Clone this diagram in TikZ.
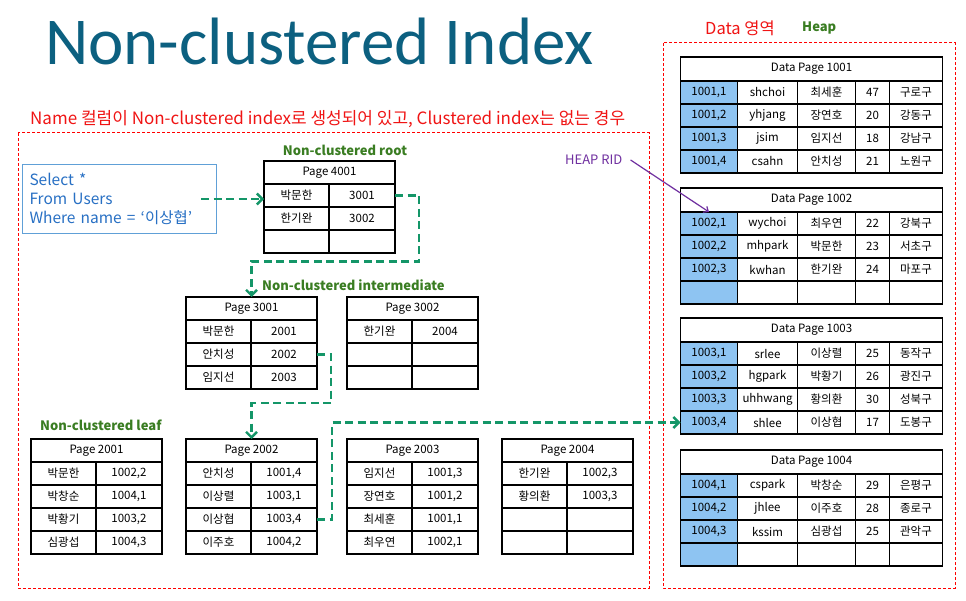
\documentclass[tikz,border=0pt]{standalone}
\usepackage{fontspec}
\setmainfont{Carlito}
\newfontfamily\kr{Noto Sans CJK KR}
\usetikzlibrary{arrows.meta,calc}

\definecolor{titleteal}{RGB}{12,96,128}
\definecolor{capred}{RGB}{240,20,20}
\definecolor{lblgreen}{RGB}{58,125,34}
\definecolor{arrowgreen}{RGB}{20,150,104}
\definecolor{qblue}{RGB}{40,112,196}
\definecolor{qborder}{RGB}{96,160,215}
\definecolor{ridblue}{RGB}{142,196,242}
\definecolor{ridpurple}{RGB}{112,48,160}

\tikzset{
  cell/.style={draw, line width=1.2pt, inner sep=0pt, outer sep=0pt,
    minimum height=23, anchor=north west,
    font=\kr\fontsize{11.5}{13}\selectfont},
  areabox/.style={draw=red, line width=1pt, dash pattern=on 3pt off 2pt},
  levellabel/.style={text=lblgreen, font=\kr\bfseries\fontsize{13}{15}\selectfont, inner sep=0pt},
  follow/.style={draw=arrowgreen, line width=2.6pt, dash pattern=on 8pt off 4.5pt,
    -{Straight Barb[length=5.5pt,width=11pt,line width=2.4pt]}},
}

% index page: name, left, top, title
\newcommand\ixpage[4]{\node[cell, minimum width=131] (#1) at (#2,#3) {#4};}
% index row: page, row number, key, pointer
\newcommand\ixrow[4]{%
  \node[cell, minimum width=65] (#1-#2a) at ($(#1.south west)+(0,{23*(#2-1)})$) {#3};
  \node[cell, minimum width=66] (#1-#2b) at ($(#1.south west)+(65,{23*(#2-1)})$) {#4};}
% data page: name, top, title
\newcommand\dpage[3]{\node[cell, minimum width=262, minimum height=24] (#1) at (680.5,#2) {#3};}
% data row: page, row number, rid, id, name, age, district
\newcommand\drow[7]{%
  \node[cell, fill=ridblue, minimum width=57] (#1-#2a) at ($(#1.south west)+(0,{23*(#2-1)})$) {#3};
  \node[cell, minimum width=60] (#1-#2b) at ($(#1.south west)+(57,{23*(#2-1)})$) {#4};
  \node[cell, minimum width=58] (#1-#2c) at ($(#1.south west)+(117,{23*(#2-1)})$) {#5};
  \node[cell, minimum width=34] (#1-#2d) at ($(#1.south west)+(175,{23*(#2-1)})$) {#6};
  \node[cell, minimum width=53] (#1-#2e) at ($(#1.south west)+(209,{23*(#2-1)})$) {#7};}

\begin{document}
\begin{tikzpicture}[x=1pt,y=-1pt]
\useasboundingbox[fill=white] (0,0) rectangle (966,601);

% headings
\node[anchor=base west, inner sep=0pt, text=titleteal,
  font=\fontsize{67}{70}\selectfont] (title) at (45,65) {Non-clustered Index};
\node[anchor=west, inner sep=0pt, text=capred, font=\kr\fontsize{17}{19}\selectfont]
  (caption) at (30,119) {Name 컬럼이 Non-clustered index로 생성되어 있고, Clustered index는 없는 경우};
\node[anchor=west, inner sep=0pt, text=capred, font=\kr\fontsize{16.5}{18}\selectfont]
  (dataarea) at (705,28) {Data 영역};
\node[anchor=west, inner sep=0pt, text=lblgreen, font=\kr\bfseries\fontsize{13}{15}\selectfont]
  (heap) at (802,28) {Heap};

% area frames
\draw[areabox] (18,133) rectangle (649,588);
\draw[areabox] (663,43) rectangle (955,588);

% query
\node[draw=qborder, line width=1pt, anchor=north west, minimum width=194, minimum height=69,
  inner sep=0pt, text=qblue, text width=180, align=left,
  font=\kr\fontsize{15.5}{19}\selectfont] (query) at (22,164)
  {Select *\\From Users\\Where name = ‘이상협’};

% root level
\node[levellabel] (lroot) at (345,150) {Non-clustered root};
\ixpage{p4001}{264}{161}{Page 4001}
\ixrow{p4001}{1}{박문한}{3001}
\ixrow{p4001}{2}{한기완}{3002}
\ixrow{p4001}{3}{}{}

% intermediate level
\node[levellabel, anchor=west] (linter) at (262,285) {Non-clustered intermediate};
\ixpage{p3001}{186}{297}{Page 3001}
\ixrow{p3001}{1}{박문한}{2001}
\ixrow{p3001}{2}{안치성}{2002}
\ixrow{p3001}{3}{임지선}{2003}
\ixpage{p3002}{347}{297}{Page 3002}
\ixrow{p3002}{1}{한기완}{2004}
\ixrow{p3002}{2}{}{}
\ixrow{p3002}{3}{}{}

% leaf level
\node[levellabel, anchor=west] (lleaf) at (40,425) {Non-clustered leaf};
\ixpage{p2001}{31}{439}{Page 2001}
\ixrow{p2001}{1}{박문한}{1002,2}
\ixrow{p2001}{2}{박창순}{1004,1}
\ixrow{p2001}{3}{박황기}{1003,2}
\ixrow{p2001}{4}{심광섭}{1004,3}
\ixpage{p2002}{186}{439}{Page 2002}
\ixrow{p2002}{1}{안치성}{1001,4}
\ixrow{p2002}{2}{이상렬}{1003,1}
\ixrow{p2002}{3}{이상협}{1003,4}
\ixrow{p2002}{4}{이주호}{1004,2}
\ixpage{p2003}{347}{439}{Page 2003}
\ixrow{p2003}{1}{임지선}{1001,3}
\ixrow{p2003}{2}{장연호}{1001,2}
\ixrow{p2003}{3}{최세훈}{1001,1}
\ixrow{p2003}{4}{최우연}{1002,1}
\ixpage{p2004}{502}{439}{Page 2004}
\ixrow{p2004}{1}{한기완}{1002,3}
\ixrow{p2004}{2}{황의환}{1003,3}
\ixrow{p2004}{3}{}{}
\ixrow{p2004}{4}{}{}

% heap data pages
\dpage{d1001}{57}{Data Page 1001}
\drow{d1001}{1}{1001,1}{shchoi}{최세훈}{47}{구로구}
\drow{d1001}{2}{1001,2}{yhjang}{장연호}{20}{강동구}
\drow{d1001}{3}{1001,3}{jsim}{임지선}{18}{강남구}
\drow{d1001}{4}{1001,4}{csahn}{안치성}{21}{노원구}
\dpage{d1002}{188}{Data Page 1002}
\drow{d1002}{1}{1002,1}{wychoi}{최우연}{22}{강북구}
\drow{d1002}{2}{1002,2}{mhpark}{박문한}{23}{서초구}
\drow{d1002}{3}{1002,3}{kwhan}{한기완}{24}{마포구}
\drow{d1002}{4}{}{}{}{}{}
\dpage{d1003}{318}{Data Page 1003}
\drow{d1003}{1}{1003,1}{srlee}{이상렬}{25}{동작구}
\drow{d1003}{2}{1003,2}{hgpark}{박황기}{26}{광진구}
\drow{d1003}{3}{1003,3}{uhhwang}{황의환}{30}{성북구}
\drow{d1003}{4}{1003,4}{shlee}{이상협}{17}{도봉구}
\dpage{d1004}{450}{Data Page 1004}
\drow{d1004}{1}{1004,1}{cspark}{박창순}{29}{은평구}
\drow{d1004}{2}{1004,2}{jhlee}{이주호}{28}{종로구}
\drow{d1004}{3}{1004,3}{kssim}{심광섭}{25}{관악구}
\drow{d1004}{4}{}{}{}{}{}

% heap RID pointer
\node[anchor=west, inner sep=0pt, text=ridpurple, font=\kr\fontsize{13}{15}\selectfont]
  (rid) at (565,160) {HEAP RID};
\draw[ridpurple, line width=1.2pt, -{Straight Barb[length=4pt,width=7pt]}]
  ([xshift=8pt]rid.east) -- (d1002-1a.north);

% lookup path
\draw[follow] ([xshift=-16pt]query.east) -- (query.east -| p4001-1a.west);
\draw[follow] (p4001-1b.east) -- ++(24,0) -- ++(0,66) -| (p3001.north);
\draw[follow] (p3001-2b.east) -- ++(14,0) -- ++(0,48.5) -| (p2002.north);
\draw[follow] (p2002-3b.east) -- ++(15,0) |- (d1003-4a.west);
\end{tikzpicture}
\end{document}
